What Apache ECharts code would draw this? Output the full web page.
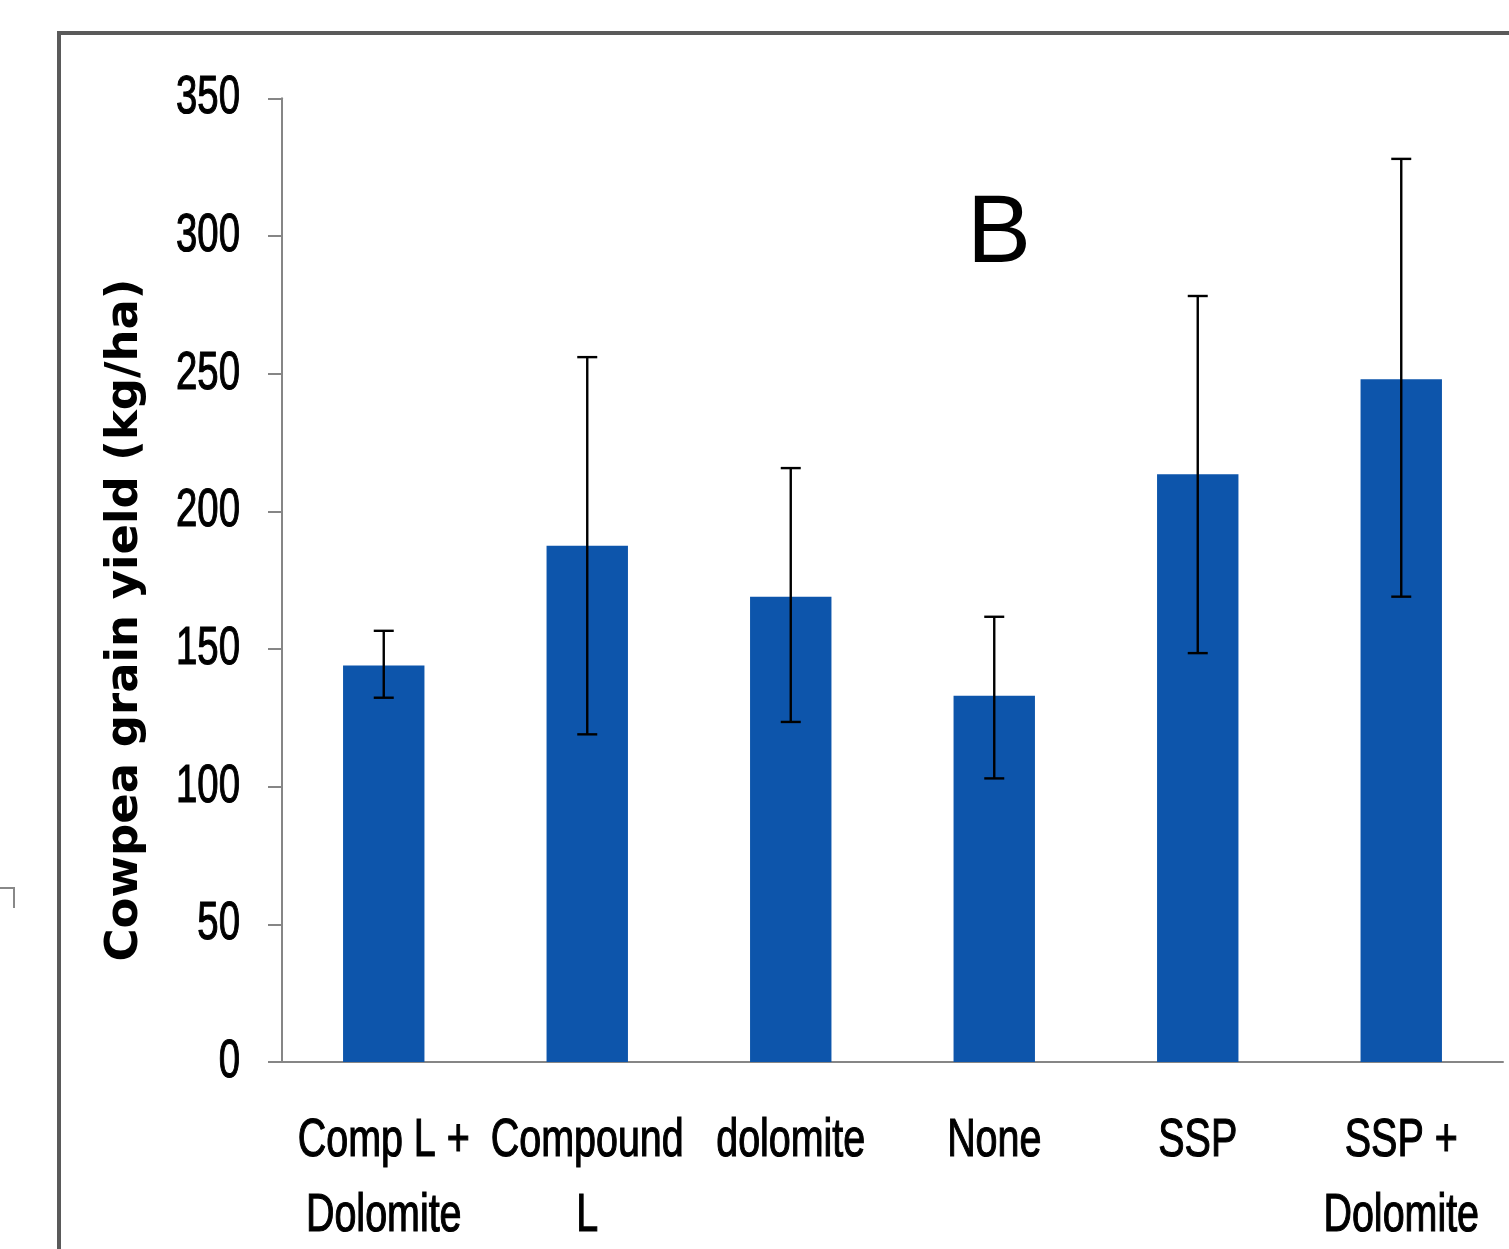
<!DOCTYPE html>
<html>
<head>
<meta charset="utf-8">
<script src="https://cdn.jsdelivr.net/npm/echarts@6/dist/echarts.min.js"></script>
<style>
html,body{margin:0;padding:0;background:#fff;}
#chart{width:1509px;height:1249px;}
</style>
</head>
<body>
<div id="chart"></div>
<script>
var categories = ['Comp L +\nDolomite', 'Compound\nL', 'dolomite', 'None', 'SSP', 'SSP +\nDolomite'];
var yieldMeans = [144, 187.5, 169, 133, 213.5, 248];
var errLower = [132.3, 119, 123.5, 103, 148.5, 169];
var errUpper = [156.6, 256, 215.7, 161.7, 278.2, 328];
var yTicks = [0, 50, 100, 150, 200, 250, 300, 350];
var yTitle = 'Cowpea grain yield (kg/ha)';
var panelLabel = 'B';

var labelFont = '54px "Liberation Sans", Arial, sans-serif';
var chart = echarts.init(document.getElementById('chart'), null, {renderer: 'canvas'});

var errData = categories.map(function (c, i) { return [i, errLower[i], errUpper[i]]; });
var catData = categories.map(function (c, i) { return [i, 0]; });
var tickData = yTicks.map(function (v) { return [0, v]; });

chart.setOption({
  animation: false,
  backgroundColor: '#ffffff',
  grid: {left: 282, right: 6, top: 98.3, bottom: 187, containLabel: false, outerBoundsMode: 'none'},
  xAxis: {
    type: 'category',
    data: categories,
    axisLine: {lineStyle: {color: '#868686', width: 2}},
    axisTick: {length: 20, lineStyle: {color: '#868686', width: 2}},
    axisLabel: {show: false}
  },
  yAxis: {
    type: 'value',
    min: yTicks[0], max: yTicks[yTicks.length - 1], interval: 50,
    splitLine: {show: false},
    axisLine: {show: true, lineStyle: {color: '#868686', width: 2}},
    axisTick: {show: true, length: 14, lineStyle: {color: '#868686', width: 2}},
    axisLabel: {show: false}
  },
  series: [
    {
      type: 'bar',
      data: yieldMeans,
      barWidth: '40%',
      itemStyle: {color: '#0D55AB'},
      z: 2
    },
    {
      type: 'custom',
      data: errData,
      z: 5,
      renderItem: function (params, api) {
        var x = api.value(0);
        var lo = api.coord([x, api.value(1)]);
        var hi = api.coord([x, api.value(2)]);
        var hw = 10;
        var st = {stroke: '#000', lineWidth: 2.4};
        return {
          type: 'group',
          children: [
            {type: 'line', shape: {x1: hi[0], y1: hi[1], x2: lo[0], y2: lo[1]}, style: st},
            {type: 'line', shape: {x1: hi[0] - hw, y1: hi[1], x2: hi[0] + hw, y2: hi[1]}, style: st},
            {type: 'line', shape: {x1: lo[0] - hw, y1: lo[1], x2: lo[0] + hw, y2: lo[1]}, style: st}
          ]
        };
      }
    },
    {
      type: 'custom',
      name: 'categoryLabels',
      data: catData,
      clip: false,
      silent: true,
      renderItem: function (params, api) {
        var i = api.value(0);
        var p = api.coord([i, 0]);
        return {
          type: 'text', x: p[0], y: p[1] + 41.5, scaleX: 0.73,
          style: {text: categories[i], font: labelFont, fill: '#000', stroke: '#000', lineWidth: 1.2, textAlign: 'center', textVerticalAlign: 'top', lineHeight: 75}
        };
      }
    },
    {
      type: 'custom',
      name: 'tickLabels',
      data: tickData,
      clip: false,
      silent: true,
      renderItem: function (params, api) {
        var v = api.value(1);
        var p = api.coord([0, v]);
        return {
          type: 'text', x: params.coordSys.x - 42, y: p[1], scaleX: 0.71,
          style: {text: String(v), font: labelFont, fill: '#000', stroke: '#000', lineWidth: 1.2, textAlign: 'right', textVerticalAlign: 'middle'}
        };
      }
    }
  ],
  graphic: [
    {type: 'rect', shape: {x: 59, y: 33, width: 1600, height: 1400}, style: {fill: 'none', stroke: '#5a5a5a', lineWidth: 4}, z: 0},
    {type: 'polyline', shape: {points: [[0, 888], [14, 888], [14, 908]]}, style: {fill: 'none', stroke: '#888', lineWidth: 2}},
    {type: 'text', x: 999, y: 236, style: {text: panelLabel, fill: '#000', font: '96px "Liberation Sans", Arial, sans-serif', textAlign: 'center', textVerticalAlign: 'middle'}},
    {type: 'text', x: 125, y: 620, rotation: Math.PI / 2, style: {text: yTitle, fill: '#000', font: 'bold 45px "DejaVu Sans", Verdana, sans-serif', textAlign: 'center', textVerticalAlign: 'middle'}}
  ]
});
</script>
</body>
</html>
